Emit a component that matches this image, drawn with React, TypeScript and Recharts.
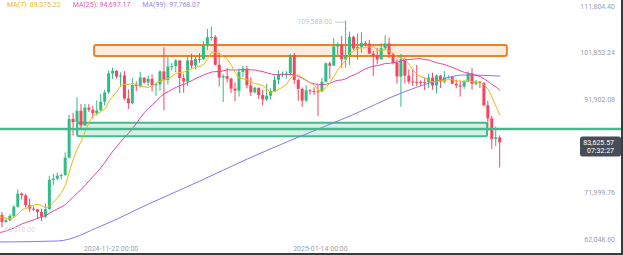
import React from 'react';
import {
  ComposedChart,
  Bar,
  Line,
  XAxis,
  YAxis,
  ReferenceArea,
  ReferenceLine,
  ReferenceDot,
} from 'recharts';

// ---- Daily candles, 2024-10-24 .. 2025-02-28 (index 0..127) ----
const opens = [
  66650, 68150, 66620, 67010, 67930, 69910, 72720, 72340, 70220, 69490, 69370, 68780, 67800, 69360, 75640, 75900,
  76540, 76680, 80370, 88650, 87950, 90380, 87270, 91050, 90590, 89850, 90460, 92310, 94290, 98350, 98890, 97670,
  97900, 93010, 91970, 95860, 95640, 97460, 96410, 97190, 95840, 96000, 98770, 96950, 99830, 99900, 101110, 97340,
  96590, 101120, 100000, 101420, 101370, 104300, 106060, 106140, 100200, 97460, 97760, 97220, 95100, 94690, 98680, 99340,
  95790, 94300, 95290, 93720, 92790, 93580, 94590, 96980, 98140, 98220, 98360, 102240, 96950, 95040, 92550, 94730,
  94560, 94520, 94500, 96530, 100500, 99990, 104080, 104560, 101330, 102260, 106140, 103650, 103960, 104820, 104710, 102580,
  102080, 101330, 103730, 104730, 102430, 100640, 97690, 101400, 97870, 96620, 96550, 96500, 96470, 96450, 97430, 95780,
  97870, 96610, 97500, 97570, 96120, 95770, 95540, 96650, 98340, 96130, 96580, 96280, 91550, 88740, 84350, 84700,
];
const highs = [
  68850, 68800, 67450, 68350, 70250, 73620, 72960, 72700, 71630, 69950, 69400, 69500, 70580, 76500, 76950, 77200,
  76950, 81500, 89530, 89940, 93265, 91790, 91850, 91800, 91450, 92590, 94000, 94830, 98990, 99590, 99000, 98560,
  98870, 94970, 97360, 96650, 98690, 97470, 97900, 98150, 96300, 99000, 103900, 101900, 100550, 101400, 101200, 98270,
  101890, 102540, 101900, 102650, 105250, 107790, 108350, 106520, 102800, 98150, 99540, 97450, 96420, 99400, 99960, 99960,
  97540, 95500, 95300, 94900, 96150, 95150, 97840, 98980, 98730, 98810, 102480, 102720, 97260, 95350, 95840, 95000,
  95400, 95900, 97370, 100680, 100870, 105870, 104990, 106300, 109588, 107240, 106390, 106850, 107120, 105290, 105500, 103220,
  103800, 104800, 106460, 106010, 102780, 101460, 102500, 101730, 99220, 99200, 100140, 96880, 97320, 98340, 98500, 98120,
  98000, 98830, 97970, 97730, 97040, 96740, 96900, 98770, 99500, 96950, 96670, 96500, 92540, 89290, 87000, 85120,
];
const lows = [
  66450, 65518, 66580, 66800, 67550, 69730, 71440, 69690, 68820, 69000, 67460, 66835, 67460, 69320, 74500, 75570,
  75730, 76490, 80220, 85070, 86130, 86670, 87110, 90090, 88720, 89370, 90400, 91500, 94000, 97160, 97240, 95730,
  92600, 90790, 91760, 94610, 95360, 96160, 95700, 94500, 93580, 94660, 90500, 95980, 98950, 98600, 94150, 94250,
  95660, 99310, 99200, 100610, 101230, 103330, 105320, 100000, 95590, 92230, 96400, 94200, 92400, 93400, 97600, 95140,
  93500, 94100, 92880, 91530, 92460, 92740, 94400, 96020, 97530, 97230, 97900, 96100, 92500, 91200, 92200, 93830,
  93710, 89260, 94320, 96500, 97260, 99950, 102250, 99570, 99550, 100120, 103340, 101260, 102750, 104110, 102510, 97780,
  100270, 101330, 103300, 101560, 100280, 96150, 91230, 96150, 96100, 95650, 95620, 95690, 94750, 95260, 94850, 94090,
  95220, 96250, 97220, 96050, 95200, 93390, 95080, 96420, 94870, 95770, 95230, 91370, 86050, 82260, 82790, 78260,
];
const closes = [
  68150, 66620, 67010, 67930, 69910, 72720, 72340, 70220, 69490, 69370, 68780, 67800, 69360, 75640, 75900, 76540,
  76680, 80370, 88650, 87950, 90380, 87270, 91050, 90590, 89850, 90460, 92310, 94290, 98350, 98890, 97670, 97900,
  93010, 91970, 95860, 95640, 97460, 96410, 97190, 95840, 96000, 98770, 96950, 99830, 99900, 101110, 97340, 96590,
  101120, 100000, 101420, 101370, 104300, 106060, 106140, 100200, 97460, 97760, 97220, 95100, 94690, 98680, 99340, 95790,
  94300, 95290, 93720, 92790, 93580, 94590, 96980, 98140, 98220, 98360, 102240, 96950, 95040, 92550, 94730, 94560,
  94520, 94500, 96530, 100500, 99990, 104080, 104560, 101330, 102260, 106140, 103650, 103960, 104820, 104710, 102580, 102080,
  101330, 103730, 104730, 102430, 100640, 97690, 101400, 97870, 96620, 96550, 96500, 96470, 96450, 97430, 95780, 97870,
  96610, 97500, 97570, 96120, 95770, 95540, 96650, 98340, 96130, 96580, 96280, 91550, 88740, 84350, 84700, 83625.57,
];
// closes of the 24 days before the first visible candle (needed for MA(7)/MA(25))
const priorCloses = [
  63330, 60800, 60650, 60750, 62090, 62060, 62820, 62220, 62130, 60580, 60270, 62450, 63190, 62850, 66050, 67040,
  67610, 67400, 68400, 68360, 69000, 67370, 67380, 66680,
];
const ma99Index = [0, 15, 26, 38, 51, 63, 76, 89, 102, 110, 118, 127];
const ma99Value = [62383, 62596, 65796, 70488, 75394, 80087, 84779, 89259, 94165, 96512, 98005, 97768];

const legendItems = [
  { text: 'MA(7): 89,375.22', color: '#F0B90B' },
  { text: 'MA(25): 94,697.17', color: '#E45BAF' },
  { text: 'MA(99): 97,768.07', color: '#9A8AE6' },
];
const yTicks = [111804.4, 101853.24, 91902.08, 71999.76, 62048.6];
const yTickLabels = ['111,804.40', '101,853.24', '91,902.08', '71,999.76', '62,048.60'];
const xTicks = [29, 82];
const xTickLabels = ['2024-11-22 00:00', '2025-01-14 00:00'];

const lastPrice = 83625.57;
const lastPriceText = '83,625.57';
const countdownText = '07:32:27';
const supportLine = 86486;
const resistanceBox = { i1: 24.2, i2: 128.7, p1: 104403, p2: 102056 };
const supportBox = { i1: 19.9, i2: 123.7, p1: 87829, p2: 84929 };
const highMark = { i: 88, price: 109588, text: '109,588.00' };
const lowMark = { i: 1, price: 65518, text: '65,518.00' };

const GREEN = '#2EBD85';
const RED = '#F6465D';
const FONT = 'Roboto, Arial, sans-serif';

const allCloses = [...priorCloses, ...closes];
const movingAvg = (n: number, i: number) => {
  const end = i + priorCloses.length + 1;
  const win = allCloses.slice(end - n, end);
  return win.reduce((a, b) => a + b, 0) / win.length;
};

const rows = closes.map((c, i) => {
  const k = ma99Index.indexOf(i);
  return {
    i,
    o: opens[i],
    h: highs[i],
    l: lows[i],
    c,
    range: [lows[i], highs[i]],
    ma7: movingAvg(7, i),
    ma25: movingAvg(25, i),
    ma99: k >= 0 ? ma99Value[k] : null,
  };
});

const Candle = (props: any) => {
  const { x, y, width, height, payload } = props;
  if (!payload || x == null) return null;
  const { o, h, l, c } = payload;
  const top = Math.min(y, y + height);
  const span = Math.abs(height);
  const k = h === l ? 0 : span / (h - l);
  const py = (p: number) => top + (h - p) * k;
  const color = c >= o ? GREEN : RED;
  const cx = x + width / 2;
  const bTop = py(Math.max(o, c));
  const bBot = py(Math.min(o, c));
  return (
    <g>
      <line x1={cx} x2={cx} y1={top} y2={top + span} stroke={color} strokeWidth={1} />
      <rect x={x} y={bTop} width={width} height={Math.max(1, bBot - bTop)} fill={color} />
    </g>
  );
};

const PriceTick = (props: any) => {
  const { x, y, payload } = props;
  const idx = yTicks.indexOf(payload.value);
  return (
    <text x={x - 8} y={y - 3.5} textAnchor="end" dominantBaseline="central" fill="#9AA1AB" fontSize={7} fontFamily={FONT}>
      {idx >= 0 ? yTickLabels[idx] : ''}
    </text>
  );
};

const DateTick = (props: any) => {
  const { x, y, payload } = props;
  const idx = xTicks.indexOf(payload.value);
  return (
    <text x={x - 2} y={y - 6} textAnchor="middle" dominantBaseline="central" fill="#9AA1AB" fontSize={7} fontFamily={FONT}>
      {idx >= 0 ? xTickLabels[idx] : ''}
    </text>
  );
};

const PriceLabel = (props: any) => {
  const vb = props.viewBox || {};
  const right = vb.x + vb.width;
  const y = vb.y;
  return (
    <g>
      <rect x={right - 43} y={y - 6} width={41} height={20} rx={2.5} fill="#474D57" />
      <text x={right - 9} y={y + 0.8} textAnchor="end" dominantBaseline="central" fill="#FFFFFF" fontSize={7} fontFamily={FONT}>
        {lastPriceText}
      </text>
      <text x={right - 9} y={y + 9} textAnchor="end" dominantBaseline="central" fill="#FFFFFF" fontSize={7} fontFamily={FONT}>
        {countdownText}
      </text>
    </g>
  );
};

const BoxShape = (color: string, fill: string) => (p: any) => (
  <rect x={p.x} y={p.y} width={p.width} height={p.height} rx={2} fill={fill} stroke={color} strokeWidth={2} />
);

export default function App() {
  return (
    <div style={{ position: 'absolute', left: 0, top: 0, width: 623, height: 255, background: '#fff', overflow: 'hidden' }}>
      <ComposedChart width={623} height={255} data={rows} margin={{ top: 0, right: 0, bottom: 0, left: 0 }}>
        <XAxis
          dataKey="i"
          type="number"
          domain={[0.38, 158.1]}
          allowDataOverflow
          ticks={xTicks}
          interval={0}
          tick={<DateTick />}
          axisLine={false}
          tickLine={false}
          tickSize={0}
          tickMargin={0}
          mirror
          height={10}
        />
        <YAxis
          type="number"
          orientation="right"
          domain={[59610, 114001]}
          allowDataOverflow
          ticks={yTicks}
          interval={0}
          tick={<PriceTick />}
          axisLine={false}
          tickLine={false}
          tickSize={0}
          tickMargin={0}
          mirror
          width={40}
        />
        <ReferenceArea
          x1={supportBox.i1}
          x2={supportBox.i2}
          y1={supportBox.p1}
          y2={supportBox.p2}
          ifOverflow="visible"
          shape={BoxShape('#45B98B', 'rgba(69,185,139,0.22)')}
        />
        <ReferenceArea
          x1={resistanceBox.i1}
          x2={resistanceBox.i2}
          y1={resistanceBox.p1}
          y2={resistanceBox.p2}
          ifOverflow="visible"
          shape={BoxShape('#E8832A', 'rgba(240,150,80,0.18)')}
        />
        <Bar dataKey="range" barSize={3} isAnimationActive={false} shape={(p: any) => <Candle {...p} />} />
        <Line dataKey="ma99" type="monotone" stroke="#8A78E8" strokeWidth={1} dot={false} connectNulls isAnimationActive={false} />
        <Line dataKey="ma25" type="linear" stroke="#E0489E" strokeWidth={1} dot={false} isAnimationActive={false} />
        <Line dataKey="ma7" type="linear" stroke="#F0B90B" strokeWidth={1} dot={false} isAnimationActive={false} />
        <ReferenceLine y={supportLine} stroke="#45B98B" strokeWidth={2.5} ifOverflow="visible" />
        <ReferenceLine y={lastPrice} stroke="none" label={(p: any) => <PriceLabel {...p} />} />
        <ReferenceDot
          x={highMark.i}
          y={highMark.price}
          r={0}
          ifOverflow="visible"
          shape={(p: any) => (
            <g>
              <line x1={p.cx - 11} x2={p.cx - 1} y1={p.cy + 1.5} y2={p.cy + 1.5} stroke="#C8CCD2" strokeWidth={1} />
              <text x={p.cx - 14} y={p.cy + 1} textAnchor="end" dominantBaseline="central" fill="#C3C7CD" fontSize={7} fontFamily={FONT}>
                {highMark.text}
              </text>
            </g>
          )}
        />
        <ReferenceDot
          x={lowMark.i}
          y={lowMark.price}
          r={0}
          ifOverflow="visible"
          shape={(p: any) => (
            <text x={p.cx + 2} y={p.cy + 3} textAnchor="start" dominantBaseline="central" fill="#E8D6DE" fontSize={7} fontFamily={FONT}>
              {lowMark.text}
            </text>
          )}
        />
      </ComposedChart>
      <div style={{ position: 'absolute', left: 7, top: 0, height: 10, display: 'flex', fontFamily: FONT, fontSize: 7, lineHeight: '10px', whiteSpace: 'nowrap' }}>
        {legendItems.map((it, k) => (
          <span key={k} style={{ color: it.color, marginRight: 12 }}>{it.text}</span>
        ))}
      </div>
      <div style={{ position: 'absolute', left: 621, top: 0, width: 2, height: 255, background: '#3A3A3A' }} />
      <div style={{ position: 'absolute', left: 0, top: 253, width: 623, height: 2, background: '#3A3A3A' }} />
    </div>
  );
}
